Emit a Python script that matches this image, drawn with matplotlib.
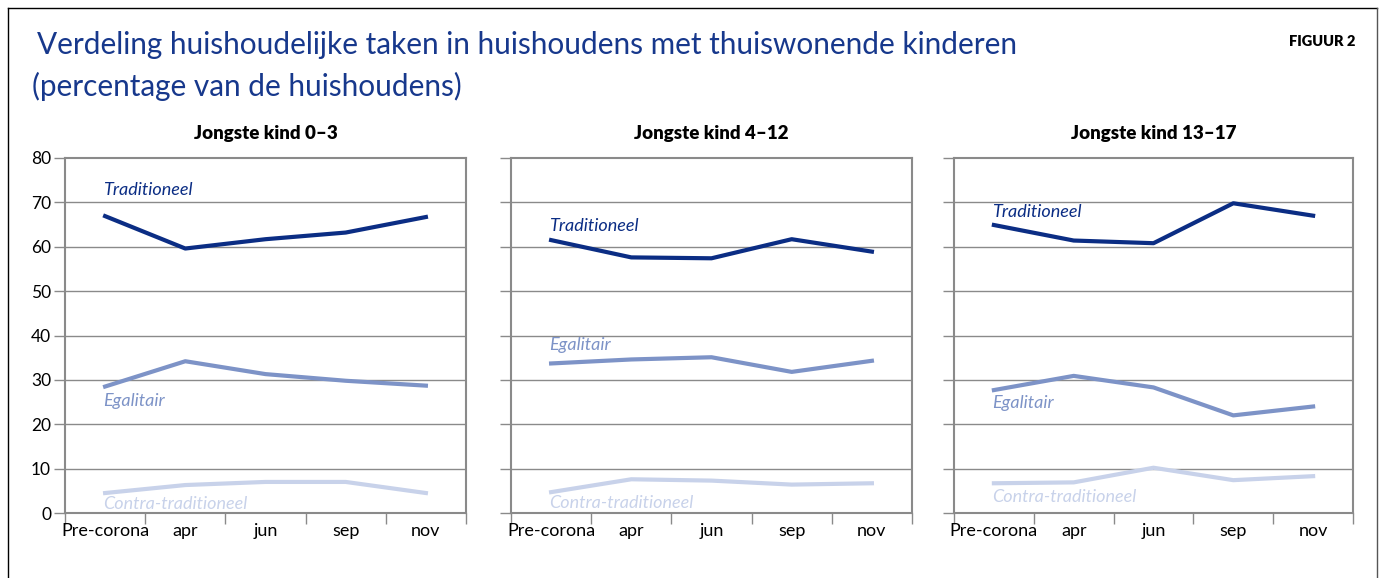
import matplotlib
matplotlib.use("Agg")
import matplotlib.pyplot as plt
from matplotlib.lines import Line2D
import numpy as np

plt.rcParams['font.family'] = ['Lato', 'DejaVu Sans']

periods = ['Pre-corona', 'apr', 'jun', 'sep', 'nov']
panels = ['Jongste kind 0–3', 'Jongste kind 4–12', 'Jongste kind 13–17']

trad = [[66.9, 59.6, 61.7, 63.2, 66.7],
        [61.5, 57.6, 57.4, 61.7, 58.9],
        [64.9, 61.4, 60.8, 69.8, 67.0]]
egal = [[28.5, 34.2, 31.3, 29.8, 28.7],
        [33.7, 34.6, 35.1, 31.8, 34.3],
        [27.7, 30.9, 28.3, 22.0, 24.0]]
contra = [[4.5, 6.3, 7.0, 7.0, 4.5],
          [4.7, 7.6, 7.3, 6.4, 6.7],
          [6.7, 6.9, 10.2, 7.4, 8.3]]

# label heights per panel (trad, egal, contra)
label_y = [[72.8, 25.2, 2.0],
           [64.7, 37.9, 2.2],
           [67.8, 24.8, 3.6]]

c_trad = '#0b2d84'
c_egal = '#7d93c7'
c_contra = '#c8d2ea'
grey = '#8a8a8a'

fig = plt.figure(figsize=(13.81, 5.78), dpi=100)

lefts = [65, 511, 954]
widths = [401, 401, 399]
x = np.arange(5) + 0.5

for i in range(3):
    ax = fig.add_axes([lefts[i] / 1381, 1 - 513 / 578, widths[i] / 1381, 355 / 578])
    ax.set_xlim(0, 5)
    ax.set_ylim(0, 80)
    for y in range(10, 80, 10):
        ax.axhline(y, color=grey, lw=1, zorder=1)
    ax.plot(x, contra[i], color=c_contra, lw=3, zorder=2)
    ax.plot(x, egal[i], color=c_egal, lw=3, zorder=3)
    ax.plot(x, trad[i], color=c_trad, lw=3, zorder=4)
    ax.text(0.48, label_y[i][0], 'Traditioneel', color=c_trad, style='italic', fontsize=13, va='center')
    ax.text(0.48, label_y[i][1], 'Egalitair', color=c_egal, style='italic', fontsize=13, va='center')
    ax.text(0.48, label_y[i][2], 'Contra-traditioneel', color=c_contra, style='italic', fontsize=13, va='center')

    ax.set_xticks(np.arange(6))
    ax.set_xticklabels([])
    ax.set_xticks(x, minor=True)
    ax.set_xticklabels(periods, minor=True, fontsize=13)
    ax.tick_params(axis='x', which='major', length=8, color=grey, width=1)
    ax.tick_params(axis='x', which='minor', length=0, pad=7)
    ax.set_yticks(range(0, 90, 10))
    ax.tick_params(axis='y', length=8, color=grey, width=1, labelsize=12.5, pad=2)
    if i > 0:
        ax.set_yticklabels([])
    for s in ax.spines.values():
        s.set_color(grey)
        s.set_linewidth(1.5)
    ax.set_title(panels[i], fontsize=13.5, fontweight='heavy', pad=14)

fig.text(37 / 1381, 1 - 45 / 578, 'Verdeling huishoudelijke taken in huishoudens met thuiswonende kinderen',
         color='#17388c', fontsize=21.4, va='center')
fig.text(32 / 1381, 1 - 86 / 578, '(percentage van de huishoudens)',
         color='#17388c', fontsize=21.4, va='center')
fig.text(1355 / 1381, 1 - 41 / 578, 'FIGUUR 2', fontsize=10.5, fontweight='heavy', ha='right', va='center')

# outer frame
fig.add_artist(Line2D([8 / 1381, 8 / 1381], [0, 1 - 8 / 578], color='black', lw=1))
fig.add_artist(Line2D([8 / 1381, 1377 / 1381], [1 - 8 / 578, 1 - 8 / 578], color='black', lw=1))
fig.add_artist(Line2D([1377 / 1381, 1377 / 1381], [0, 1 - 8 / 578], color='#555555', lw=1))

fig.savefig('out.png', dpi=100)
